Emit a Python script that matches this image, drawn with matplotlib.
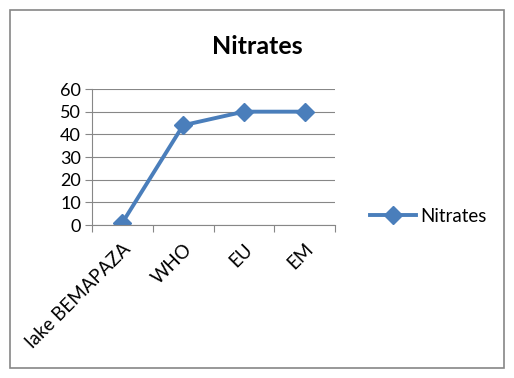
import matplotlib
matplotlib.use('Agg')
import matplotlib.pyplot as plt
import matplotlib.patches as mpatches

plt.rcParams['font.family'] = ['Lato', 'DejaVu Sans']

categories = ['lake BEMAPAZA', 'WHO', 'EU', 'EM']
nitrates = [1, 44, 50, 50]
yticks = [0, 10, 20, 30, 40, 50, 60]

BLUE = '#4A7EBB'
GRID = '#878787'

W, H = 514, 378
fig = plt.figure(figsize=(W / 100, H / 100), dpi=100)
ax = fig.add_axes([92 / W, 1 - 225 / H, (335 - 92) / W, (225 - 89) / H])

x = list(range(len(categories)))
ax.plot(x, nitrates, color=BLUE, lw=2.8, marker='D', markersize=9,
        markerfacecolor=BLUE, markeredgecolor=BLUE, label='Nitrates')

ax.set_xlim(-0.5, len(categories) - 0.5)
ax.set_ylim(0, 60)
ax.set_yticks(yticks)
ax.set_yticklabels([str(v) for v in yticks], fontsize=13)
ax.yaxis.grid(True, color=GRID, lw=0.8)
ax.set_axisbelow(True)

ax.set_xticks([i - 0.5 for i in range(len(categories) + 1)], minor=False)
ax.set_xticklabels([''] * (len(categories) + 1))
ax.set_xticks(x, minor=True)
ax.set_xticklabels(categories, minor=True, rotation=45, ha='right',
                   va='top', rotation_mode='anchor', fontsize=13.5)
ax.tick_params(axis='x', which='major', direction='out', length=5, color=GRID)
ax.tick_params(axis='x', which='minor', length=0, pad=11)
ax.tick_params(axis='y', length=5, direction='out', color=GRID, pad=3)

for s in ['top', 'right']:
    ax.spines[s].set_visible(False)
for s in ['left', 'bottom']:
    ax.spines[s].set_color(GRID)
    ax.spines[s].set_linewidth(0.8)

fig.text(257 / W, 1 - 46 / H, 'Nitrates', ha='center', va='center',
         fontsize=18, fontweight='bold')

fig.legend(loc='center left', bbox_to_anchor=(362 / W, 1 - 216 / H),
           frameon=False, fontsize=13.5, handlelength=2.5, handletextpad=0.2,
           borderaxespad=0)

fig.patches.append(mpatches.Rectangle((10 / W, 10 / H), 494 / W, 358 / H,
                                      transform=fig.transFigure, fill=False,
                                      edgecolor='#868686', lw=1.2))

fig.savefig('out.png', dpi=100)
